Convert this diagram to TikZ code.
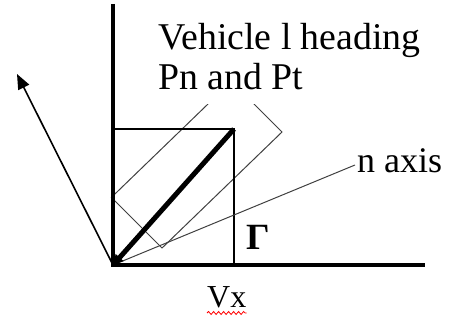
\documentclass[tikz,border=0pt]{standalone}
\usepackage{fontspec}
\setmainfont{Liberation Serif}
\usetikzlibrary{arrows.meta,decorations.pathmorphing}
\begin{document}
\begin{tikzpicture}[x=1pt,y=-1pt,
  axisline/.style={line width=3.5pt, line join=miter},
  thinline/.style={line width=1pt, draw=black!75},
  sqline/.style={line width=1.5pt},
  lbl/.style={inner sep=0pt, anchor=base west, font=\fontsize{36}{40}\selectfont}]
\useasboundingbox (0,0) rectangle (453,320);
% key points
\coordinate (O) at (113,265);
\coordinate (Ytop) at (113,4);
\coordinate (Xend) at (425,265);
\coordinate (P) at (234,129);
\coordinate (Sq1) at (113,129);
\coordinate (Sq2) at (234,267);
\coordinate (Nend) at (355,165);
\coordinate (Arr) at (17,74);
\coordinate (L) at (111.4,197.4);
\coordinate (B) at (162,248);
\coordinate (R) at (282,132);
\coordinate (T) at (231.4,81.4);
% rotated rectangle (top hidden)
\begin{scope}
  \clip (0,105) rectangle (453,320);
  \draw[thinline] (L) -- (B) -- (R) -- (T) -- cycle;
\end{scope}
% square
\draw[sqline] (Sq1) -- (P) -- (Sq2);
% n axis
\draw[thinline] (O) -- (Nend);
% arrow
\draw[line width=1.6pt, -{Triangle[length=15pt,width=12pt]}] (O) -- (Arr);
% thick diagonal
\draw[line width=5pt, {Triangle[length=10pt,width=10pt]}-] (O) -- (P);
% axes
\draw[axisline] (Ytop) -- (O) -- (Xend);
% labels
\node[lbl, font=\fontsize{37.8}{40}\selectfont] (h1) at (158,50) {Vehicle l heading};
\node[lbl, font=\fontsize{37.8}{40}\selectfont] (h2) at (158,90) {Pn and Pt};
\node[lbl] (nax) at (357,173) {n axis};
\node[lbl, font=\fontsize{37}{40}\selectfont\bfseries] (G) at (246,250) {Γ};
\node[lbl, font=\fontsize{32}{36}\selectfont] (vx) at (207,308) {Vx};
\draw[red, line width=0.8pt, decorate,
  decoration={snake, segment length=5pt, amplitude=1.5pt}]
  ([yshift=-5pt]vx.base west) -- ([yshift=-5pt]vx.base east);
\end{tikzpicture}
\end{document}
